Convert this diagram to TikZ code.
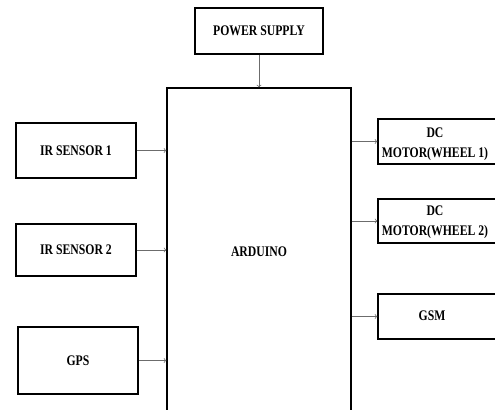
\documentclass[tikz,border=0pt]{standalone}
\usepackage{fontspec}
\setmainfont{Liberation Serif}[FakeStretch=0.8]
\usepackage{tikz}
\usetikzlibrary{arrows}

\begin{document}
\begin{tikzpicture}[>=to, x=0.03cm, y=-0.03cm,
	blok/.style={draw, line width=1.2pt, rectangle, inner sep=0pt, font=\fontsize{12.5}{14}\bfseries, align=center},
	lbl/.style={font=\fontsize{12.5}{14}\bfseries, align=center, inner sep=0pt},
	pijl/.style={->, draw=gray!85!black, line width=.6pt}]
				\clip (0,0) rectangle (495,409);
				\fill[white] (0,0) rectangle (495,409);

				% centre block
				\node (ard) [blok, minimum width=5.52cm, minimum height=9.84cm] at (259,252) {ARDUINO};
				\node (pwr) [blok, minimum width=3.84cm, minimum height=1.38cm] at (259,31) {POWER SUPPLY};

				% inputs
				\node (ir1) [blok, minimum width=3.6cm, minimum height=1.65cm] at (76,150.5) {IR SENSOR 1};
				\node (ir2) [blok, minimum width=3.6cm, minimum height=1.56cm] at (76,250) {IR SENSOR 2};
				\node (gps) [blok, minimum width=3.6cm, minimum height=2.01cm] at (78,360.5) {GPS};

				% outputs
				\node (mot1) [blok, minimum width=3.96cm, minimum height=1.35cm] at (444,141.5) {};
				\node (mot2) [blok, minimum width=3.96cm, minimum height=1.32cm] at (444,221) {};
				\node (gsm) [blok, minimum width=3.96cm, minimum height=1.35cm] at (444,316.5) {};
				\node (mot1txt) [lbl] at (435,144) {DC\\[3pt]MOTOR(WHEEL 1)};
				\node (mot2txt) [lbl] at (435,222) {DC\\[3pt]MOTOR(WHEEL 2)};
				\node (gsmtxt) [lbl] at (432,316) {GSM};

				\draw[pijl] (pwr.south) -- (ard.north);
				\draw[pijl] (ir1.east) -- (ir1.east -| ard.west);
				\draw[pijl] (ir2.east) -- (ir2.east -| ard.west);
				\draw[pijl] (gps.east) -- (gps.east -| ard.west);
				\draw[pijl] (mot1.west -| ard.east) -- (mot1.west);
				\draw[pijl] (mot2.west -| ard.east) -- (mot2.west);
				\draw[pijl] (gsm.west -| ard.east) -- (gsm.west);

			\end{tikzpicture}
\end{document}
